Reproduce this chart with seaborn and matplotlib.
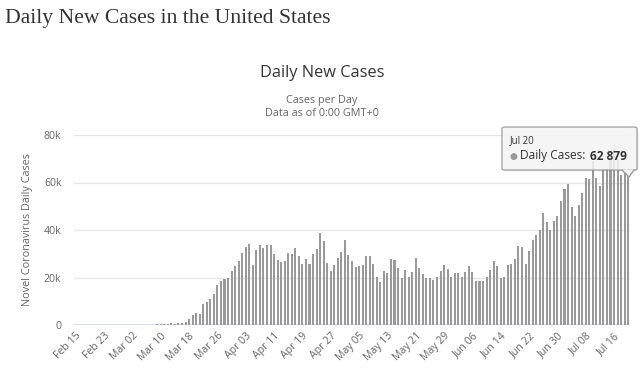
import numpy as np
import pandas as pd
import matplotlib
matplotlib.use("Agg")
import matplotlib.pyplot as plt
import seaborn as sns
from matplotlib.patches import FancyBboxPatch, Polygon

# ---------------- data ----------------
dates = pd.date_range("2020-02-15", "2020-07-20", freq="D")
day_labels = [d.strftime("%b %d") for d in dates]

feb_cases = [0, 0, 0, 0, 0, 0, 1, 0, 0, 0, 4, 3, 2, 5, 8]
early_mar_cases = [7, 22, 26, 28, 70, 66, 108, 120, 214, 290, 409, 458, 640]
later_cases = [
    600, 750, 800, 1400, 2500, 4200, 5200, 4500, 9000, 9600,
    11000, 13200, 17000, 18600, 19400, 19700, 22800, 25000, 27100, 30500,
    32700, 34300, 25400, 31400, 33800, 32300, 33800, 33800, 30000, 27400,
    26600, 26900, 30500, 30000, 32300, 28900, 25800, 27800, 25800, 30000,
    31900, 38800, 35300, 26200, 22800, 25100, 28100, 30700, 35700, 29600,
    27100, 24300, 24700, 25100, 29200, 28900, 25800, 20400, 18200, 22800,
    22000, 27800, 27400, 23800, 19600, 23100, 20300, 22400, 28300, 24100,
    21400, 19600, 19600, 18900, 20300, 22700, 25200, 23400, 20300, 21800,
    21800, 20300, 22400, 24800, 22400, 18700, 18600, 18600, 20400, 23100,
    26900, 25000, 19700, 20400, 25400, 25800, 27800, 33400, 33000, 25800,
    31200, 35700, 37900, 40200, 47100, 43300, 40200, 44000, 46000, 52200,
    57200, 59300, 49800, 45700, 50500, 55700, 62000, 61300, 69100, 62000,
    58500, 65600, 65600, 70500, 74700, 69800, 63200, 65600, 62879,
]
daily_cases = feb_cases + early_mar_cases + later_cases

tick_step = 8
tick_labels = day_labels[::tick_step]
y_ticks = [0, 20000, 40000, 60000, 80000]
y_tick_labels = ["0", "20k", "40k", "60k", "80k"]

tooltip_date = "Jul 20"
tooltip_value = "62 879"

df = pd.DataFrame({"day": day_labels, "cases": daily_cases})

# ---------------- figure ----------------
sns.set_style("white")
plt.rcParams["font.family"] = ["Open Sans", "DejaVu Sans"]

W, H = 643, 376
fig = plt.figure(figsize=(W / 100, H / 100), dpi=100)
fig.patch.set_facecolor("white")

def fx(px):
    return px / W

def fy(py):
    return 1 - py / H

ax = fig.add_axes([fx(74), fy(325), fx(630) - fx(74), fy(135) - fy(325)])

sns.barplot(data=df, x="day", y="cases", color="#9a9a9a", saturation=1,
            width=0.58, ax=ax, linewidth=0)

ax.set_xlim(-0.5, len(day_labels) - 0.5)
ax.set_ylim(0, 80000)
ax.set_yticks(y_ticks)
ax.set_yticklabels(y_tick_labels)
ax.set_xticks(list(range(0, len(day_labels), tick_step)))
ax.set_xticklabels(tick_labels, rotation=45, ha="right", rotation_mode="anchor")
ax.tick_params(axis="both", length=0, labelsize=7.6, colors="#666666")
ax.tick_params(axis="x", pad=4)
ax.tick_params(axis="y", pad=9)
for lab in ax.get_yticklabels():
    lab.set_horizontalalignment("right")

for s in ax.spines.values():
    s.set_visible(False)
ax.set_axisbelow(True)
ax.yaxis.grid(True, color="#e6e6e6", linewidth=1)
ax.axhline(0, color="#ccd6eb", linewidth=1.2, zorder=0.5)

ax.set_xlabel("")
ax.set_ylabel("Novel Coronavirus Daily Cases", fontsize=7.8, color="#666666", labelpad=8)

# ---------------- titles ----------------
fig.text(fx(5), fy(18), "Daily New Cases in the United States",
         fontsize=15.6, family=["Liberation Serif", "DejaVu Serif"],
         color="#333333", ha="left", va="center")
fig.text(fx(322), fy(73), "Daily New Cases", fontsize=11.8, color="#333333",
         ha="center", va="center")
fig.text(fx(322), fy(100), "Cases per Day", fontsize=7.8, color="#666666",
         ha="center", va="center")
fig.text(fx(322), fy(113), "Data as of 0:00 GMT+0", fontsize=7.8, color="#666666",
         ha="center", va="center")

# ---------------- tooltip ----------------
bx0, by0, bx1, by1 = 502, 127, 637, 170
shadow = FancyBboxPatch((fx(bx0 + 1.5), fy(by1 + 1.5)), fx(bx1) - fx(bx0), fy(by0) - fy(by1),
                        boxstyle="round,pad=0,rounding_size=0.004",
                        transform=fig.transFigure, facecolor="#000000", alpha=0.08,
                        edgecolor="none", zorder=9)
fig.patches.append(shadow)
box = FancyBboxPatch((fx(bx0), fy(by1)), fx(bx1) - fx(bx0), fy(by0) - fy(by1),
                     boxstyle="round,pad=0,rounding_size=0.004",
                     transform=fig.transFigure, facecolor="#f7f7f7", alpha=0.85,
                     edgecolor="#9a9a9a", linewidth=1, zorder=10)
fig.patches.append(box)
arrow = Polygon([(fx(622), fy(by1 - 0.5)), (fx(634), fy(by1 - 0.5)), (fx(629), fy(177))],
                closed=True, transform=fig.transFigure, facecolor="#f7f7f7",
                edgecolor="none", zorder=11)
fig.patches.append(arrow)
fig.add_artist(plt.Line2D([fx(622), fx(629), fx(634)], [fy(by1), fy(177), fy(by1)],
                          transform=fig.transFigure, color="#9a9a9a", linewidth=1, zorder=12))

fig.text(fx(510), fy(141), tooltip_date, fontsize=7, color="#333333",
         ha="left", va="center", zorder=13)
fig.text(fx(509), fy(156), "\u25cf", fontsize=6.5, color="#9a9a9a",
         ha="left", va="center", zorder=13, family=["DejaVu Sans"])
fig.text(fx(520), fy(156), "Daily Cases: ", fontsize=8.6, color="#333333",
         ha="left", va="center", zorder=13)
fig.text(fx(627), fy(156), tooltip_value, fontsize=8.6, color="#333333",
         ha="right", va="center", zorder=13, fontweight="bold")

fig.savefig("out.png", dpi=100, facecolor="white")
